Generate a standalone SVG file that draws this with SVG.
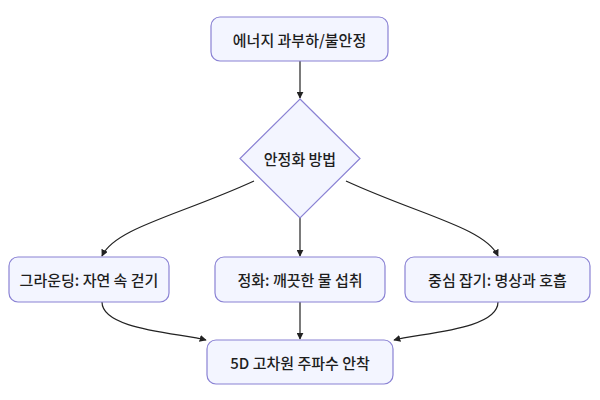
<svg xmlns="http://www.w3.org/2000/svg" width="600" height="400" viewBox="0 0 600 400">
<style>
.n{fill:#f3f5ff;stroke:#8a82d4;stroke-width:1.2}
.t{font-family:"Noto Sans CJK KR","Noto Sans",sans-serif;font-size:15px;font-weight:500;fill:#1e1e1e;text-anchor:middle;dominant-baseline:central}
.e{fill:none;stroke:#222;stroke-width:1.2}
</style>
<defs>
<marker id="a" viewBox="0 0 10 10" refX="9" refY="5" markerWidth="7" markerHeight="7" orient="auto-start-reverse" markerUnits="userSpaceOnUse">
<path d="M0,0L10,5L0,10z" fill="#222"/>
</marker>
</defs>
<rect width="600" height="400" fill="#fff"/>
<g id="edges">
<path class="e" d="M300,61V98" marker-end="url(#a)"/>
<path class="e" d="M254,181C180,215 115,228 102,256" marker-end="url(#a)"/>
<path class="e" d="M300,218V256" marker-end="url(#a)"/>
<path class="e" d="M346,181C420,215 485,228 498,256" marker-end="url(#a)"/>
<path class="e" d="M102,302C102,330 180,333 206,340" marker-end="url(#a)"/>
<path class="e" d="M300,302V339" marker-end="url(#a)"/>
<path class="e" d="M498,302C498,330 420,333 394,340" marker-end="url(#a)"/>
</g>
<g id="n1"><rect class="n" x="211" y="17" width="177" height="44" rx="9"/><text class="t" x="299.5" y="39">에너지 과부하/불안정</text></g>
<g id="n2"><path class="n" d="M300,99L360,158.5L300,218L240,158.5Z"/><text class="t" x="300" y="158.5">안정화 방법</text></g>
<g id="n3"><rect class="n" x="9" y="257" width="160" height="45" rx="9"/><text class="t" x="89" y="279.5">그라운딩: 자연 속 걷기</text></g>
<g id="n4"><rect class="n" x="215" y="257" width="170" height="45" rx="9"/><text class="t" x="300" y="279.5">정화: 깨끗한 물 섭취</text></g>
<g id="n5"><rect class="n" x="405" y="257" width="185" height="45" rx="9"/><text class="t" x="497.5" y="279.5">중심 잡기: 명상과 호흡</text></g>
<g id="n6"><rect class="n" x="207" y="340" width="186" height="44" rx="9"/><text class="t" x="300" y="362">5D 고차원 주파수 안착</text></g>
</svg>
